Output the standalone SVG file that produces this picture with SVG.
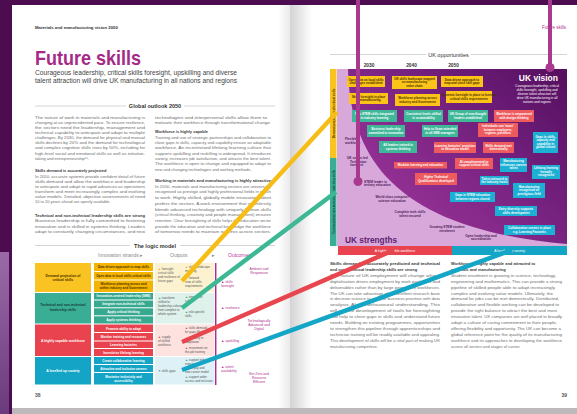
<svg xmlns="http://www.w3.org/2000/svg" width="577" height="414" viewBox="0 0 577 414">
<defs>
<linearGradient id="spineR" x1="0" y1="0" x2="1" y2="0"><stop offset="0" stop-color="#d4d2d4"/><stop offset="1" stop-color="#ffffff"/></linearGradient>
<linearGradient id="spineL" x1="0" y1="0" x2="1" y2="0"><stop offset="0" stop-color="#ffffff"/><stop offset="1" stop-color="#ebe9eb"/></linearGradient>
<linearGradient id="edge" x1="0" y1="0" x2="0" y2="1"><stop offset="0" stop-color="#9a6aa8"/><stop offset="1" stop-color="#6a3a7c"/></linearGradient>
<linearGradient id="chartG" gradientUnits="userSpaceOnUse" x1="400" y1="235" x2="560" y2="70"><stop offset="0" stop-color="#9b3498"/><stop offset="0.45" stop-color="#7c2584"/><stop offset="0.72" stop-color="#681a74"/><stop offset="1" stop-color="#56105f"/></linearGradient>
<style>
text{font-family:"Liberation Sans",Arial,sans-serif}
.bt{font-size:4px;fill:#6e6e6e}
.bh{font-size:4px;fill:#3a3a3a;font-weight:bold}
.hd{font-size:5.5px;fill:#333;font-weight:bold;text-anchor:middle}
.rule{stroke:#a8a8a8;stroke-width:0.5}
.cl{font-size:3.4px;font-weight:bold;text-anchor:middle}
.st{font-size:3.1px;font-weight:bold;text-anchor:middle}
.op{font-size:3px;fill:#555}
.oc{font-size:3.4px;fill:#b0308f}
.ocm{font-size:3.4px;fill:#b0308f;text-anchor:middle}
.bx{font-size:3px;font-weight:bold;text-anchor:middle}
.w{fill:#ffffff}
.dk{fill:#4a3000}
.lt{font-size:3.2px;fill:#4e1c5c;font-weight:bold}
.ltm{font-size:3.2px;fill:#4e1c5c;font-weight:bold;text-anchor:middle}
.yel{fill:#fcc419}.tea{fill:#3fb89a}.red{fill:#ee5b5e}.blu{fill:#1cb0d4}
.conn{fill:none;stroke-width:4.5;stroke-linecap:butt}
</style>
</defs>

<!-- background / book -->
<rect x="0" y="0" width="577" height="414" fill="#4e0c50"/>
<rect x="0" y="252" width="9" height="162" fill="url(#edge)"/>
<rect x="12" y="5" width="278" height="403" fill="#ffffff"/>
<rect x="278" y="5" width="12" height="403" fill="url(#spineL)"/>
<rect x="290" y="5" width="287" height="403" fill="#ffffff"/>
<rect x="290" y="5" width="22" height="403" fill="url(#spineR)"/>
<rect x="12" y="408" width="565" height="6" fill="#bcb8bc"/>

<!-- LEFT PAGE -->
<g id="left-header">
<text x="35" y="29" style="font-size:4.3px;font-weight:bold;fill:#333">Materials and manufacturing vision 2050</text>
<text x="35" y="65" style="font-size:21px;font-weight:bold;fill:#a52a87" textLength="106" lengthAdjust="spacingAndGlyphs">Future skills</text>
<text x="35" y="74.5" style="font-size:6.6px;fill:#444" textLength="202" lengthAdjust="spacingAndGlyphs">Courageous leadership, critical skills foresight, upskilling and diverse</text>
<text x="35" y="82.5" style="font-size:6.6px;fill:#444" textLength="202" lengthAdjust="spacingAndGlyphs">talent attraction will drive UK manufacturing in all nations and regions</text>
</g>

<g id="global-outlook">
<line class="rule" x1="35" y1="106" x2="126" y2="106"/>
<line class="rule" x1="184" y1="106" x2="275" y2="106"/>
<text class="hd" x="155" y="108">Global outlook 2050</text>
<g>
<text class="bt" x="35" y="118.5" textLength="110" lengthAdjust="spacingAndGlyphs">The nature of work in materials and manufacturing is</text>
<text class="bt" x="35" y="123.6" textLength="110" lengthAdjust="spacingAndGlyphs">changing at an unprecedented pace. To ensure resilience,</text>
<text class="bt" x="35" y="128.8" textLength="110" lengthAdjust="spacingAndGlyphs">the sectors need the leadership, management and</text>
<text class="bt" x="35" y="133.9" textLength="110" lengthAdjust="spacingAndGlyphs">technical capability to anticipate and adapt to multiple</text>
<text class="bt" x="35" y="139.1" textLength="110" lengthAdjust="spacingAndGlyphs">challenges. By 2030, the demand for physical and manual</text>
<text class="bt" x="35" y="144.2" textLength="110" lengthAdjust="spacingAndGlyphs">skills declines by 20% and the demand for technological</text>
<text class="bt" x="35" y="149.4" textLength="110" lengthAdjust="spacingAndGlyphs">and complex cognitive skills rises by 50%, including for</text>
<text class="bt" x="35" y="154.5" textLength="110" lengthAdjust="spacingAndGlyphs">high-level social and emotional skills as well as initiative-</text>
<text class="bt" x="35" y="159.7">taking and entrepreneurship¹⁶.</text>
<text class="bh" x="35" y="172.3">Skills demand is accurately projected</text>
<text class="bt" x="35" y="177.5" textLength="110" lengthAdjust="spacingAndGlyphs">In 2050, accurate systems provide confident detail of future</text>
<text class="bt" x="35" y="182.6" textLength="110" lengthAdjust="spacingAndGlyphs">skills demand and allow the workforce and leadership</text>
<text class="bt" x="35" y="187.8" textLength="110" lengthAdjust="spacingAndGlyphs">to anticipate and adapt to rapid advances as operations</text>
<text class="bt" x="35" y="192.9" textLength="110" lengthAdjust="spacingAndGlyphs">transform and meet increasingly complex and evolving</text>
<text class="bt" x="35" y="198.1" textLength="110" lengthAdjust="spacingAndGlyphs">value models. Detailed, objective assessments of need</text>
<text class="bt" x="35" y="203.2">10 to 20 years ahead are openly available.</text>
<text class="bh" x="35" y="217.3" textLength="110" lengthAdjust="spacingAndGlyphs">Technical and non-technical leadership skills are strong</text>
<text class="bt" x="35" y="222.4" textLength="110" lengthAdjust="spacingAndGlyphs">Business leadership is fully committed to fostering</text>
<text class="bt" x="35" y="227.6" textLength="110" lengthAdjust="spacingAndGlyphs">innovation and is skilled in systems thinking. Leaders</text>
<text class="bt" x="35" y="232.8" textLength="110" lengthAdjust="spacingAndGlyphs">adapt to constantly changing circumstances, and new</text>

<text class="bt" x="155" y="118.5" textLength="112" lengthAdjust="spacingAndGlyphs">technologies and interpersonal skills allow them to</text>
<text class="bt" x="155" y="123.7" textLength="116" lengthAdjust="spacingAndGlyphs">motivate their workforce through transformational change.</text>
<text class="bh" x="155" y="133.3">Workforce is highly capable</text>
<text class="bt" x="155" y="138.7" textLength="116" lengthAdjust="spacingAndGlyphs">Training and use of strategic partnerships and collaboration to</text>
<text class="bt" x="155" y="144" textLength="116" lengthAdjust="spacingAndGlyphs">close gaps in skills, capacity and capability ensure an adaptable</text>
<text class="bt" x="155" y="149.3" textLength="116" lengthAdjust="spacingAndGlyphs">workforce. An incentivised lifelong learning culture that</text>
<text class="bt" x="155" y="154.6" textLength="116" lengthAdjust="spacingAndGlyphs">supports upskilling and reskilling is widespread. It introduces</text>
<text class="bt" x="155" y="159.9" textLength="116" lengthAdjust="spacingAndGlyphs">variety, increases job satisfaction, and attracts the best talent.</text>
<text class="bt" x="155" y="165.2" textLength="116" lengthAdjust="spacingAndGlyphs">The workforce is open to change and equipped to adapt to</text>
<text class="bt" x="155" y="170.5">new and changing technologies and working methods.</text>
<text class="bh" x="155" y="182.3" textLength="116" lengthAdjust="spacingAndGlyphs">Working in materials and manufacturing is highly attractive</text>
<text class="bt" x="155" y="187.7" textLength="116" lengthAdjust="spacingAndGlyphs">In 2050, materials and manufacturing sectors are universally</text>
<text class="bt" x="155" y="193.4" textLength="116" lengthAdjust="spacingAndGlyphs">recognised as prestige and highly professional fields in which</text>
<text class="bt" x="155" y="199.1" textLength="116" lengthAdjust="spacingAndGlyphs">to work. Highly skilled, globally mobile innovation talent</text>
<text class="bt" x="155" y="204.8" textLength="116" lengthAdjust="spacingAndGlyphs">prefers the sectors. A work environment that seamlessly</text>
<text class="bt" x="155" y="210.5" textLength="116" lengthAdjust="spacingAndGlyphs">blends advanced technology with uniquely human skills</text>
<text class="bt" x="155" y="216.2" textLength="116" lengthAdjust="spacingAndGlyphs">(critical thinking, creativity and people management) ensures</text>
<text class="bt" x="155" y="221.9" textLength="116" lengthAdjust="spacingAndGlyphs">retention. Clear foresighting of skills helps the education sector</text>
<text class="bt" x="155" y="227.6" textLength="116" lengthAdjust="spacingAndGlyphs">provide the education and technical knowledge the workforce</text>
<text class="bt" x="155" y="233.3" textLength="116" lengthAdjust="spacingAndGlyphs">of tomorrow needs to maintain success across sectors.</text>
</g>
</g>

<!-- LOGIC MODEL -->
<g id="logic-model-header">
<line class="rule" x1="35" y1="245.5" x2="130" y2="245.5"/>
<line class="rule" x1="180" y1="245.5" x2="275" y2="245.5"/>
<text class="hd" x="155" y="247.5">The logic model</text>
<text x="98" y="256.5" style="font-size:5px;fill:#888">Innovation strands ▸</text>
<text x="170" y="256.5" style="font-size:5px;fill:#888">Outputs</text>
<text x="212" y="256.5" style="font-size:5px;fill:#888">▸</text>
<text x="228" y="256.5" style="font-size:5px;fill:#c040a0">Outcomes</text>
</g>

<g id="row-demand">
<rect x="35" y="263" width="56" height="29" fill="#f9c322"/>
<text class="cl dk" x="63" y="276.5">Demand projection of</text>
<text class="cl dk" x="63" y="281">critical skills</text>
<rect x="94" y="263" width="59" height="8" fill="#f4b400"/>
<rect x="94" y="272" width="59" height="7.5" fill="#f4b400"/>
<rect x="94" y="280.5" width="59" height="11.5" fill="#f4b400"/>
<text class="st dk" x="123.5" y="268.3">Data driven approach to map skills</text>
<text class="st dk" x="123.5" y="276.8">Open data in local skills critical skills</text>
<text class="st dk" x="123.5" y="285.3">Workforce planning across and</text>
<text class="st dk" x="123.5" y="289.3">within industry and Government</text>
<rect x="155" y="263" width="59" height="29" fill="#fdf2d0"/>
<text class="op" x="158" y="270"><tspan fill="#f0a000">▲</tspan> foresight</text>
<text class="op" x="158" y="274">critical skills</text>
<text class="op" x="158" y="278">and resilience of</text>
<text class="op" x="158" y="282">future gaps</text>
<text class="op" x="185" y="268"><tspan fill="#f0a000">▲</tspan> skills landscape</text>
<text class="op" x="185" y="272">mapping</text>
<text class="op" x="185" y="279"><tspan fill="#f0a000">▲</tspan> forward</text>
<text class="op" x="185" y="283">view of skills</text>
<text class="op" x="185" y="287">requirements</text>
<text class="oc" x="221" y="283">▲ skills</text>
<text class="oc" x="221" y="287">foresight</text>
<text class="ocm" x="259" y="270">Ambient and</text>
<text class="ocm" x="259" y="274">Responsive</text>
</g>

<g id="row-leadership">
<rect x="35" y="293" width="56" height="30.5" fill="#3aae94"/>
<text class="cl" x="63" y="306" fill="#173f36">Technical and non-technical</text>
<text class="cl" x="63" y="310.5" fill="#173f36">leadership skills</text>
<rect x="94" y="293" width="59" height="6.5" fill="#36a98f"/>
<rect x="94" y="300.5" width="59" height="6.8" fill="#36a98f"/>
<rect x="94" y="308.3" width="59" height="7" fill="#36a98f"/>
<rect x="94" y="316.3" width="59" height="7.2" fill="#36a98f"/>
<text class="st w" x="123.5" y="297.4">Innovation-centred leadership (SME)</text>
<text class="st w" x="123.5" y="305">Integrate non-technical skills</text>
<text class="st w" x="123.5" y="312.8">Apply critical thinking</text>
<text class="st w" x="123.5" y="320.9">Apply systems thinking</text>
<rect x="155" y="293" width="59" height="30.5" fill="#dff1eb"/>
<text class="op" x="158" y="299"><tspan fill="#2ea07a">▲</tspan> transform</text>
<text class="op" x="158" y="303">skilled to</text>
<text class="op" x="158" y="307">leadership culture</text>
<text class="op" x="158" y="311">from complex to</text>
<text class="op" x="158" y="315">whole system</text>
<text class="op" x="185" y="297.5"><tspan fill="#2ea07a">▲</tspan> innovation</text>
<text class="op" x="185" y="301.5">culture</text>
<text class="op" x="185" y="313"><tspan fill="#2ea07a">▲</tspan> role-specific</text>
<text class="op" x="185" y="317">skills</text>
<text class="oc" x="221" y="309">▲ resilience</text>
<text class="ocm" x="259" y="322">Technologically</text>
<text class="ocm" x="259" y="326">Advanced and</text>
<text class="ocm" x="259" y="330">Digital</text>
</g>

<g id="row-workforce">
<rect x="35" y="324.5" width="56" height="31.5" fill="#e9434f"/>
<text class="cl w" x="63" y="341.5">A highly capable workforce</text>
<rect x="94" y="324.5" width="59" height="7.5" fill="#e9434f"/>
<rect x="94" y="333" width="59" height="7.5" fill="#e9434f"/>
<rect x="94" y="341.5" width="59" height="6.5" fill="#e9434f"/>
<rect x="94" y="349" width="59" height="7" fill="#e9434f"/>
<text class="st w" x="123.5" y="329.6">Promote ability to adapt</text>
<text class="st w" x="123.5" y="337.8">Monitor training and resources</text>
<text class="st w" x="123.5" y="345.8">Learning factories</text>
<text class="st w" x="123.5" y="353.5">Incentivise lifelong learning</text>
<rect x="155" y="324.5" width="59" height="31.5" fill="#fde2df"/>
<text class="op" x="158" y="338"><tspan fill="#e03a45">▲</tspan> supply</text>
<text class="op" x="158" y="342">of skilled</text>
<text class="op" x="158" y="346">workforce</text>
<text class="op" x="185" y="328.5"><tspan fill="#e03a45">▲</tspan> skills demand</text>
<text class="op" x="185" y="332.5">for gaps filled</text>
<text class="op" x="185" y="338.5"><tspan fill="#e03a45">▲</tspan> flexibility in</text>
<text class="op" x="185" y="342.5">adaptation</text>
<text class="op" x="185" y="348.5"><tspan fill="#e03a45">▲</tspan> investment on</text>
<text class="op" x="185" y="352.5">the-job training</text>
<text class="oc" x="221" y="342">▲ upskilling</text>
</g>

<g id="row-society">
<rect x="35" y="357" width="56" height="27.5" fill="#14a5c6"/>
<text class="cl w" x="63" y="372">A levelled up society</text>
<rect x="94" y="357" width="59" height="7" fill="#14a5c6"/>
<rect x="94" y="365" width="59" height="7" fill="#14a5c6"/>
<rect x="94" y="373" width="59" height="11.5" fill="#14a5c6"/>
<text class="st w" x="123.5" y="361.6">Create collaborative learning</text>
<text class="st w" x="123.5" y="369.6">Attractive and inclusive careers</text>
<text class="st w" x="123.5" y="377.6">Maximise inclusivity and</text>
<text class="st w" x="123.5" y="381.6">accessibility</text>
<rect x="155" y="357" width="59" height="27.5" fill="#def1f6"/>
<text class="op" x="158" y="372"><tspan fill="#1a8fc0">▼</tspan> skills gaps</text>
<text class="op" x="185" y="360.5"><tspan fill="#2ea07a">▲</tspan> support industry</text>
<text class="op" x="185" y="364.5">engagement</text>
<text class="op" x="185" y="369"><tspan fill="#2ea07a">▲</tspan> fair pay and</text>
<text class="op" x="185" y="373">new career model</text>
<text class="op" x="185" y="378"><tspan fill="#2ea07a">▲</tspan> support wider</text>
<text class="op" x="185" y="382">access and inclusion</text>
<text class="oc" x="221" y="368">▲ talent</text>
<text class="oc" x="221" y="372">availability</text>
<text class="ocm" x="259" y="375">Net Zero and</text>
<text class="ocm" x="259" y="379">Resource</text>
<text class="ocm" x="259" y="383">Efficient</text>
</g>
<line x1="215.7" y1="263" x2="215.7" y2="385" stroke="#a8308f" stroke-width="1.5"/>
<text x="35" y="396.5" style="font-size:5px;font-weight:bold;fill:#555">38</text>

<!-- RIGHT PAGE -->
<g id="right-header">
<text x="566" y="28.5" style="font-size:4.5px;fill:#b0308f;text-anchor:end">Future skills</text>
<line class="rule" x1="330" y1="54.5" x2="426" y2="54.5"/>
<line class="rule" x1="471" y1="54.5" x2="567" y2="54.5"/>
<text class="hd" x="448.5" y="56.5" style="font-weight:normal">UK opportunities</text>
<text x="369" y="67" style="font-size:4.8px;font-weight:bold;fill:#333;text-anchor:middle">2030</text>
<text x="411.5" y="67" style="font-size:4.8px;font-weight:bold;fill:#333;text-anchor:middle">2040</text>
<text x="453.5" y="67" style="font-size:4.8px;font-weight:bold;fill:#333;text-anchor:middle">2050</text>
</g>

<g id="chart-background">
<rect x="337" y="69" width="230" height="177" fill="url(#chartG)"/>
<path d="M337,69 L348,69 C350,170 410,230 567,244 L567,246 L337,246 Z" fill="#d8a8da"/>
<rect x="330" y="69" width="6.5" height="89" fill="#f9c322"/>
<rect x="330" y="158" width="6.5" height="88" fill="#3aae94"/>
<text transform="translate(334.5,113.5) rotate(-90)" style="font-size:3px;font-weight:bold;fill:#4a3000;text-anchor:middle">Demand projection of critical skills</text>
<text transform="translate(334.5,202) rotate(-90)" style="font-size:3px;font-weight:bold;fill:#173f36;text-anchor:middle">Technical and non-technical leadership skills</text>
</g>

<g id="uk-vision">
<text x="558" y="81" style="font-size:8.5px;font-weight:bold;fill:#fff;text-anchor:end">UK vision</text>
<text x="537" y="86.5" style="font-size:3.2px;fill:#fff;text-anchor:middle">Courageous leadership, critical</text>
<text x="537" y="90.5" style="font-size:3.2px;fill:#fff;text-anchor:middle">skills foresight, upskilling and</text>
<text x="537" y="94.5" style="font-size:3.2px;fill:#fff;text-anchor:middle">diverse talent attraction will</text>
<text x="537" y="98.5" style="font-size:3.2px;fill:#fff;text-anchor:middle">drive UK manufacturing in all</text>
<text x="537" y="102.5" style="font-size:3.2px;fill:#fff;text-anchor:middle">nations and regions</text>
</g>

<g id="b1"><rect class="yel" x="347" y="76" width="38" height="11"/><text class="bx dk" x="366" y="80.8">Open data on local skills</text><text class="bx dk" x="366" y="84.3">challenges established</text></g>
<g id="b2"><rect class="yel" x="392" y="76" width="45" height="13"/><text class="bx dk" x="414.5" y="80">UK skills landscape mapped</text><text class="bx dk" x="414.5" y="83.4">on manufacturing</text><text class="bx dk" x="414.5" y="86.8">value chain</text></g>
<g id="b3"><rect class="yel" x="441" y="76" width="42" height="11"/><text class="bx dk" x="462" y="80.8">Data driven approach to</text><text class="bx dk" x="462" y="84.3">map and close skill gaps</text></g>
<g id="b4"><rect class="yel" x="349" y="93" width="39" height="11"/><text class="bx dk" x="368.5" y="97.8">Skills foresight in place</text><text class="bx dk" x="368.5" y="101.3">in manufacturing</text></g>
<g id="b5"><rect class="yel" x="395" y="94" width="45" height="12"/><text class="bx dk" x="417.5" y="99.2">Workforce planning across</text><text class="bx dk" x="417.5" y="102.7">industry and Government</text></g>
<g id="b6"><rect class="yel" x="446" y="91" width="46" height="12"/><text class="bx dk" x="469" y="96.2">Systemic foresight in place to forecast</text><text class="bx dk" x="469" y="99.7">critical skills requirements</text></g>
<g id="b7"><rect class="tea" x="352" y="110" width="45" height="12"/><text class="bx w" x="374.5" y="115.2">Non-STEM skills integrated</text><text class="bx w" x="374.5" y="118.7">in industry learning</text></g>
<g id="b8"><rect class="tea" x="404" y="110" width="39" height="12"/><text class="bx w" x="423.5" y="115.2">Consistent levels skilled</text><text class="bx w" x="423.5" y="118.7">in sustainability</text></g>
<g id="b9"><rect class="tea" x="448" y="110" width="40" height="12"/><text class="bx w" x="468" y="115.2">UK Group of new thought</text><text class="bx w" x="468" y="118.7">leaders established</text></g>
<g id="b10"><rect class="red" x="494" y="110" width="40" height="12"/><text class="bx w" x="514" y="115.2">Workforce is empowered</text><text class="bx w" x="514" y="118.7">with design thinking</text></g>
<g id="b11"><rect class="tea" x="367" y="125" width="38" height="12"/><text class="bx w" x="386" y="130.2">Business leadership</text><text class="bx w" x="386" y="133.7">committed to innovation</text></g>
<g id="b12"><rect class="tea" x="422" y="125" width="36" height="12"/><text class="bx w" x="440" y="130.2">Help to Grow extended</text><text class="bx w" x="440" y="133.7">to all SME managers</text></g>
<g id="b13"><rect class="red" x="478" y="123" width="40" height="14"/><text class="bx w" x="498" y="127.3">Individuals can 'move'</text><text class="bx w" x="498" y="130.8">between employers,</text><text class="bx w" x="498" y="134.3">regions, positions</text></g>
<g id="b14"><rect class="tea" x="379" y="141" width="38" height="12"/><text class="bx w" x="398" y="146.2">All leaders trained in</text><text class="bx w" x="398" y="149.7">systems thinking</text></g>
<g id="b15"><rect class="red" x="434" y="142" width="42" height="11"/><text class="bx w" x="455" y="146.8">Learning factories' provision</text><text class="bx w" x="455" y="150.3">to education model</text></g>
<g id="b16"><rect class="red" x="483" y="142" width="31" height="11"/><text class="bx w" x="498.5" y="146.8">Skills demand met</text><text class="bx w" x="498.5" y="150.3">domestically</text></g>
<g id="b17"><rect class="blu" x="533" y="132" width="25" height="21"/><text class="bx w" x="545.5" y="137.5">Gaps in skills,</text><text class="bx w" x="545.5" y="141">capacity and</text><text class="bx w" x="545.5" y="144.5">capability in</text><text class="bx w" x="545.5" y="148">global closed</text></g>
<g id="b18"><rect class="red" x="394" y="162" width="53" height="6.5"/><text class="bx w" x="420.5" y="166.3">Modular learning and education</text></g>
<g id="b19"><rect class="red" x="455" y="158" width="38" height="11"/><text class="bx w" x="474" y="162.8">AI complemented to</text><text class="bx w" x="474" y="166.3">support critical skills</text></g>
<g id="b20"><rect class="blu" x="500" y="158" width="27" height="14"/><text class="bx w" x="513.5" y="162.3">Manufacturing</text><text class="bx w" x="513.5" y="165.8">influences careers</text><text class="bx w" x="513.5" y="169.3">talent</text></g>
<g id="b21"><rect class="blu" x="532" y="165" width="28" height="14"/><text class="bx w" x="546" y="169.3">Lifelong learning</text><text class="bx w" x="546" y="172.8">formally</text><text class="bx w" x="546" y="176.3">recognised</text></g>
<g id="b22"><rect class="red" x="415" y="173" width="42" height="12"/><text class="bx w" x="436" y="178.2">Higher Technical</text><text class="bx w" x="436" y="181.7">Qualifications developed</text></g>
<g id="b23"><rect class="blu" x="480" y="176" width="29" height="9"/><text class="bx w" x="494.5" y="179.8">Talent attracted to</text><text class="bx w" x="494.5" y="183.2">the industry levels</text></g>
<g id="b24"><rect class="blu" x="513" y="183" width="32" height="15"/><text class="bx w" x="529" y="187.8">Manufacturing</text><text class="bx w" x="529" y="191.3">recognised as</text><text class="bx w" x="529" y="194.8">prestigious field</text></g>
<g id="b25"><rect class="blu" x="450" y="192" width="45" height="10"/><text class="bx w" x="472.5" y="196.3">Gaps in STEM education</text><text class="bx w" x="472.5" y="199.8">between regions closed</text></g>
<g id="b26"><rect class="blu" x="495" y="206" width="42" height="10"/><text class="bx w" x="516" y="210.3">Entry diversity supports</text><text class="bx w" x="516" y="213.8">skills development</text></g>
<g id="b27"><rect class="blu" x="504" y="225" width="51" height="10"/><text class="bx w" x="529.5" y="229.3">Collaboration centres in place</text><text class="bx w" x="529.5" y="232.8">e.g. Learning Factories</text></g>

<g id="uk-strengths">
<text class="lt" x="345" y="139.5">Flexible</text><text class="lt" x="345" y="143.5">workforce</text>
<text class="lt" x="347" y="158.5">UK sector-led</text><text class="lt" x="350" y="162.5">Technician</text><text class="lt" x="350" y="166" style="font-size:2.6px">framework</text>
<text class="lt" x="364" y="182.5">STEM leader in</text><text class="lt" x="364" y="186.3">tertiary education</text>
<text class="ltm" x="392" y="198">World class computer</text><text class="ltm" x="392" y="201.8">science education</text>
<text class="ltm" x="410" y="213">Complete tech skills</text><text class="ltm" x="410" y="216.8">talent secured</text>
<text class="ltm" x="447" y="228">Growing STEM student</text><text class="ltm" x="447" y="231.8">enrolment</text>
<text class="ltm" x="481" y="236.5">Open leadership and</text><text class="ltm" x="481" y="240.3">accreditation</text>
<text x="345" y="242.5" style="font-size:8.3px;font-weight:bold;fill:#5f1f70">UK strengths</text>
</g>

<g id="bars">
<rect x="338" y="246" width="114" height="9" fill="#e9434f"/>
<rect x="452" y="246" width="115" height="9" fill="#14a5c6"/>
<text x="395" y="252" style="font-size:3.4px;fill:#fff;text-anchor:middle">A highly capable workforce</text>
<text x="509.5" y="252" style="font-size:3.4px;fill:#fff;text-anchor:middle">A levelled up society</text>
</g>

<g id="right-body">
<text class="bh" x="330" y="265" textLength="110" lengthAdjust="spacingAndGlyphs">Skills demand is accurately predicted and technical</text>
<text class="bh" x="330" y="270.9">and non-technical leadership skills are strong</text>
<text class="bt" x="330" y="276.8" textLength="110" lengthAdjust="spacingAndGlyphs">The nature of UK employment will change where</text>
<text class="bt" x="330" y="282.7" textLength="110" lengthAdjust="spacingAndGlyphs">digitalisation drives employment by work packages and</text>
<text class="bt" x="330" y="288.6" textLength="110" lengthAdjust="spacingAndGlyphs">deliverables rather than by large permanent workforces.</text>
<text class="bt" x="330" y="294.5" textLength="110" lengthAdjust="spacingAndGlyphs">The UK can take advantage of its excellent research base</text>
<text class="bt" x="330" y="300.4" textLength="110" lengthAdjust="spacingAndGlyphs">in decision science to analyse business priorities with data</text>
<text class="bt" x="330" y="306.3" textLength="110" lengthAdjust="spacingAndGlyphs">analysis, AI and behavioural understanding. This</text>
<text class="bt" x="330" y="312.2" textLength="110" lengthAdjust="spacingAndGlyphs">will aid the development of tools for foresighting</text>
<text class="bt" x="330" y="318.1" textLength="110" lengthAdjust="spacingAndGlyphs">that help to close gaps in skills and understand future</text>
<text class="bt" x="330" y="324" textLength="110" lengthAdjust="spacingAndGlyphs">needs. Building on existing programmes, opportunities</text>
<text class="bt" x="330" y="329.9" textLength="110" lengthAdjust="spacingAndGlyphs">to strengthen this pipeline through apprenticeships and</text>
<text class="bt" x="330" y="335.8" textLength="110" lengthAdjust="spacingAndGlyphs">technician training will be readily available and appealing.</text>
<text class="bt" x="330" y="341.7" textLength="110" lengthAdjust="spacingAndGlyphs">This development of skills will be a vital part of making UK</text>
<text class="bt" x="330" y="347.6">manufacturing competitive.</text>

<text class="bh" x="451" y="265">Workforce is highly capable and attracted to</text>
<text class="bh" x="451" y="270.9">materials and manufacturing</text>
<text class="bt" x="451" y="276.8" textLength="105" lengthAdjust="spacingAndGlyphs">Student enrolment is growing in science, technology,</text>
<text class="bt" x="451" y="282.7" textLength="111" lengthAdjust="spacingAndGlyphs">engineering and mathematics. This can provide a strong</text>
<text class="bt" x="451" y="288.6" textLength="104" lengthAdjust="spacingAndGlyphs">pipeline of skilled people able to adapt increasingly</text>
<text class="bt" x="451" y="294.5" textLength="102" lengthAdjust="spacingAndGlyphs">complex and evolving value models. Ultimately, the</text>
<text class="bt" x="451" y="300.4" textLength="108" lengthAdjust="spacingAndGlyphs">demand for jobs can be met domestically. Distributed,</text>
<text class="bt" x="451" y="306.3" textLength="108" lengthAdjust="spacingAndGlyphs">collaborative and flexible working can be developed to</text>
<text class="bt" x="451" y="312.2" textLength="106" lengthAdjust="spacingAndGlyphs">provide the right balance to attract the best and most</text>
<text class="bt" x="451" y="318.1" textLength="111" lengthAdjust="spacingAndGlyphs">innovative talent. UK companies are well placed to broadly</text>
<text class="bt" x="451" y="324" textLength="106" lengthAdjust="spacingAndGlyphs">adopt a culture of caring commitment to their people,</text>
<text class="bt" x="451" y="329.9" textLength="110" lengthAdjust="spacingAndGlyphs">offering flexibility and opportunity. The UK can become a</text>
<text class="bt" x="451" y="335.8" textLength="111" lengthAdjust="spacingAndGlyphs">global reference point for the quality of its manufacturing</text>
<text class="bt" x="451" y="341.7" textLength="111" lengthAdjust="spacingAndGlyphs">workforce and its approaches to developing the workforce</text>
<text class="bt" x="451" y="347.6">across all sectors and stages of career.</text>
</g>
<text x="567" y="397" style="font-size:5px;font-weight:bold;fill:#555;text-anchor:end">39</text>

<!-- CONNECTORS -->
<g id="connectors">
<line class="conn" x1="182" y1="281" x2="337" y2="112" stroke="#f6bd16"/>
<line class="conn" x1="182" y1="308" x2="336" y2="192" stroke="#3cb895"/>
<line class="conn" x1="182" y1="342" x2="394" y2="250" stroke="#e8464f"/>
<line class="conn" x1="182" y1="370" x2="512" y2="250" stroke="#13a6c7"/>
<line x1="358" y1="0" x2="358" y2="181" stroke="#a8398f" stroke-width="4"/>
<circle cx="358" cy="181.5" r="4.5" fill="#a8398f"/>
<line x1="550" y1="0" x2="550" y2="67" stroke="#a8398f" stroke-width="4"/>
<circle cx="550" cy="67.5" r="4.5" fill="#a8398f"/>
</g>
</svg>
